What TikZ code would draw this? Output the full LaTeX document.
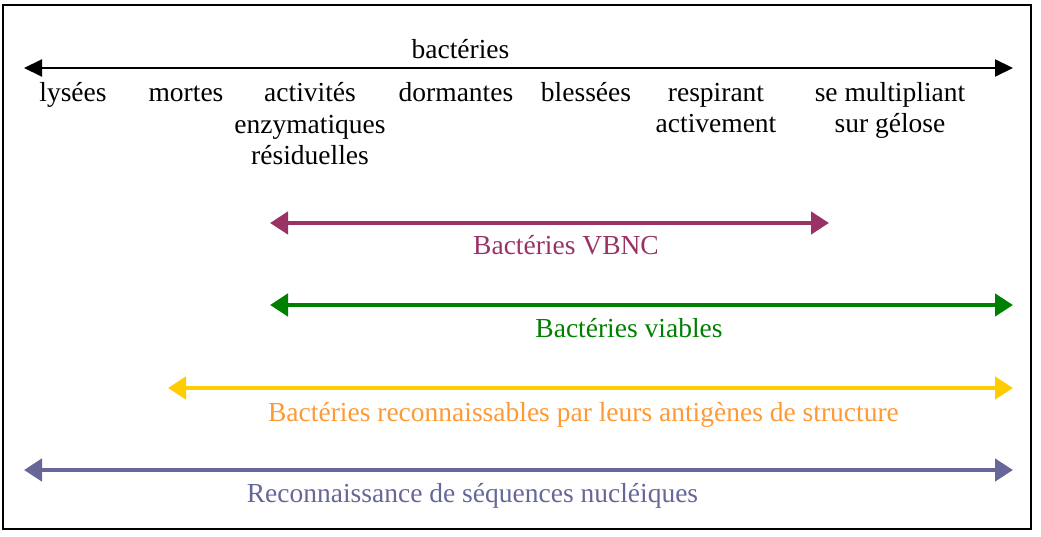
\documentclass[tikz,border=0pt]{standalone}
\usepackage{fontspec}
\setmainfont{Liberation Serif}
\usetikzlibrary{arrows.meta}
\definecolor{cvbnc}{HTML}{993366}
\definecolor{cviab}{HTML}{008000}
\definecolor{cyel}{HTML}{FFCC00}
\definecolor{corange}{HTML}{FF9933}
\definecolor{cpurp}{HTML}{666699}
\tikzset{
  lbl/.style={anchor=base,inner sep=0pt,align=center,font=\fontsize{27.5}{31.5}\selectfont},
  axisarrow/.style={line width=2pt,{Triangle[length=18pt,width=17pt]}-{Triangle[length=18pt,width=17pt]}},
  rangearrow/.style={line width=4.5pt,{Triangle[length=18pt,width=22pt]}-{Triangle[length=18pt,width=22pt]}}
}
\begin{document}
\begin{tikzpicture}[x=1pt,y=-1pt]
\useasboundingbox (0,0) rectangle (1041,537);
\draw[line width=2pt] (3,5) rectangle (1031,529);
% axis
\coordinate (axL) at (24,68);
\coordinate (axR) at (1013,68);
\draw[axisarrow] (axL) -- (axR);
\node[lbl] (bact) at (460.5,59) {bactéries};
\node[lbl] (lys) at (73,102) {lysées};
\node[lbl] (mort) at (186,102) {mortes};
\node[lbl] (act) at (310,165) {activités\\enzymatiques\\résiduelles};
\node[lbl] (dorm) at (456,102) {dormantes};
\node[lbl] (bles) at (586,102) {blessées};
\node[lbl] (resp) at (716,133) {respirant\\activement};
\node[lbl] (mult) at (890,133) {se multipliant\\sur gélose};
% VBNC
\coordinate (vL) at (270,223);
\coordinate (vR) at (829,223);
\draw[rangearrow,cvbnc] (vL) -- (vR);
\node[lbl,text=cvbnc] (vlab) at (566,255) {Bactéries VBNC};
% viables
\coordinate (gL) at (270,305);
\coordinate (gR) at (1013,305);
\draw[rangearrow,cviab] (gL) -- (gR);
\node[lbl,text=cviab] (glab) at (629,337) {Bactéries viables};
% antigenes
\coordinate (yL) at (168,388);
\coordinate (yR) at (1013,388);
\draw[rangearrow,cyel] (yL) -- (yR);
\node[lbl,text=corange] (ylab) at (583.5,421) {Bactéries reconnaissables par leurs antigènes de structure};
% sequences
\coordinate (pL) at (24,470);
\coordinate (pR) at (1013,470);
\draw[rangearrow,cpurp] (pL) -- (pR);
\node[lbl,text=cpurp] (plab) at (472.5,502) {Reconnaissance de séquences nucléiques};
\end{tikzpicture}
\end{document}
